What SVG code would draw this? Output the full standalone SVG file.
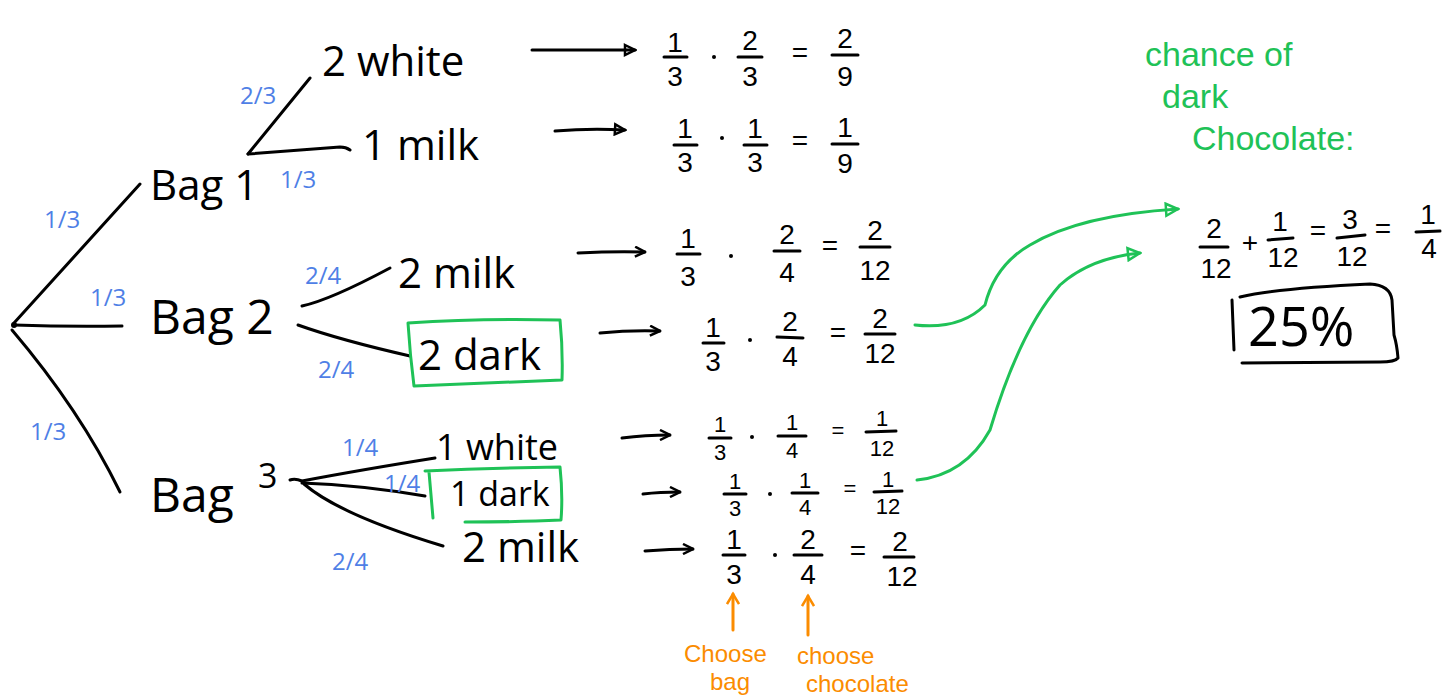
<svg xmlns="http://www.w3.org/2000/svg" width="1444" height="698" viewBox="0 0 1444 698">
<defs>
<style>
.ink{fill:none;stroke:#000;stroke-width:3;stroke-linecap:round;stroke-linejoin:round}
.g{fill:none;stroke:#1fc257;stroke-width:3;stroke-linecap:round;stroke-linejoin:round}
.o{fill:none;stroke:#fb8c00;stroke-width:3;stroke-linecap:round;stroke-linejoin:round}
.t{font-family:"Open Sans","Liberation Sans",sans-serif;fill:#000}
.big{font-size:42px}
.lbl{font-family:"Open Sans","Liberation Sans",sans-serif;fill:#4f7fe6;font-size:24px}
.f{font-family:"Liberation Sans",Arial,sans-serif;fill:#000;font-size:28px;text-anchor:middle}
.fs{font-family:"Liberation Sans",Arial,sans-serif;fill:#000;font-size:22px;text-anchor:middle}
.gt{font-family:"Liberation Sans",Arial,sans-serif;fill:#1fc257;font-size:34px}
.ot{font-family:"Liberation Sans",Arial,sans-serif;fill:#fb8c00;font-size:24px}
</style>
<marker id="ah" viewBox="0 0 12 12" refX="11" refY="6" markerWidth="12" markerHeight="12" markerUnits="userSpaceOnUse" orient="auto">
<path d="M1,1 L11,6 L1,11" fill="none" stroke="#000" stroke-width="2.5"/>
</marker>
<marker id="tri" viewBox="0 0 14 14" refX="12" refY="7" markerWidth="14" markerHeight="14" markerUnits="userSpaceOnUse" orient="auto">
<path d="M2,2 L12,7 L2,12 Z" fill="none" stroke="#000" stroke-width="2.5"/>
</marker>
<marker id="gtri" viewBox="0 0 16 16" refX="14" refY="8" markerWidth="16" markerHeight="16" markerUnits="userSpaceOnUse" orient="auto">
<path d="M2,2 L14,8 L2,14 Z" fill="none" stroke="#1fc257" stroke-width="2.5"/>
</marker>
<marker id="oh" viewBox="0 0 16 14" refX="13" refY="7" markerWidth="16" markerHeight="14" markerUnits="userSpaceOnUse" orient="auto">
<path d="M3,1 L13,7 L3,13" fill="none" stroke="#fb8c00" stroke-width="2.5"/>
</marker>
</defs>
<rect width="1444" height="698" fill="#fff"/>

<g id="connectors">
<circle cx="14" cy="325" r="3" fill="#000"/>
<path class="ink" d="M14,323 L140,184"/>
<path class="ink" d="M14,325 Q70,327 122,326"/>
<path class="ink" d="M12,330 Q80,410 120,492"/>
<path class="ink" d="M248,154 L310,78"/>
<path class="ink" d="M248,154 Q300,150 340,147 Q346,147 350,150"/>
<path class="ink" d="M302,306 Q330,300 390,268"/>
<path class="ink" d="M298,325 Q340,340 410,356"/>
<path class="ink" d="M290,480 Q295,478 302,481 Q360,470 435,458"/>
<path class="ink" d="M302,483 Q360,485 425,496"/>
<path class="ink" d="M304,484 Q340,515 443,546"/>
<path class="ink" d="M532,50 L635,50" marker-end="url(#tri)"/>
<path class="ink" d="M555,131 Q590,128 625,130" marker-end="url(#tri)"/>
<path class="ink" d="M578,253 Q615,251 645,252" marker-end="url(#ah)"/>
<path class="ink" d="M600,333 Q630,330 660,331" marker-end="url(#ah)"/>
<path class="ink" d="M622,438 Q645,435 670,435" marker-end="url(#ah)"/>
<path class="ink" d="M643,494 Q660,492 680,492" marker-end="url(#ah)"/>
<path class="ink" d="M645,551 Q670,549 693,549" marker-end="url(#ah)"/>
<path class="g" d="M915,325 Q960,330 985,305 Q995,265 1030,245 Q1080,215 1178,209" marker-end="url(#gtri)"/>
<path class="g" d="M917,480 Q965,475 990,430 Q1020,330 1060,285 Q1090,258 1140,253" marker-end="url(#gtri)"/>
<path class="o" d="M733,630 L733,594" marker-end="url(#oh)"/>
<path class="o" d="M808,635 L808,596" marker-end="url(#oh)"/>
</g>

<g id="branch-labels">
<text class="lbl" x="44" y="228">1/3</text>
<text class="lbl" x="90" y="306">1/3</text>
<text class="lbl" x="30" y="440">1/3</text>
<text class="lbl" x="240" y="104">2/3</text>
<text class="lbl" x="280" y="188">1/3</text>
<text class="lbl" x="305" y="284">2/4</text>
<text class="lbl" x="318" y="378">2/4</text>
<text class="lbl" x="342" y="456">1/4</text>
<text class="lbl" x="384" y="492" font-size="16">1/4</text>
<text class="lbl" x="332" y="570">2/4</text>
</g>

<g id="bag1"><text class="t big" x="150" y="200">Bag 1</text></g>
<g id="bag2"><text class="t" font-size="48" x="150" y="334">Bag 2</text></g>
<g id="bag3"><text class="t" font-size="48" x="150" y="512">Bag</text><text class="t" font-size="34" x="258" y="488">3</text></g>

<g id="white2"><text class="t big" x="322" y="76">2 white</text></g>
<g id="milk1"><text class="t big" x="362" y="160">1 milk</text></g>
<g id="milk2a"><text class="t big" x="398" y="288">2 milk</text></g>
<g id="dark2">
<path class="g" d="M408,323 Q480,318 560,320 Q563,350 562,380 Q490,383 414,386 Q410,355 408,323 Z"/>
<text class="t big" x="418" y="370">2 dark</text>
</g>
<g id="white1"><text class="t" font-size="36" x="436" y="460">1 white</text></g>
<g id="dark1">
<path class="g" d="M425,471 Q490,468 560,467 Q563,495 561,520 Q520,522 465,522 M429,472 L433,518"/>
<text class="t" font-size="34" x="450" y="506">1 dark</text>
</g>
<g id="milk2b"><text class="t big" x="462" y="562">2 milk</text></g>

<g id="eq1">
<text class="f" x="675" y="52">1</text><path class="ink" d="M664,57 L687,57"/><text class="f" x="675" y="86">3</text>
<circle cx="714" cy="57" r="2" fill="#000"/>
<text class="f" x="750" y="50">2</text><path class="ink" d="M738,57 L762,57"/><text class="f" x="750" y="86">3</text>
<text class="f" x="800" y="62">=</text>
<text class="f" x="845" y="48">2</text><path class="ink" d="M832,55 L858,55"/><text class="f" x="845" y="86">9</text>
</g>
<g id="eq2">
<text class="f" x="685" y="138">1</text><path class="ink" d="M674,145 L697,145"/><text class="f" x="685" y="172">3</text>
<circle cx="722" cy="138" r="2" fill="#000"/>
<text class="f" x="755" y="138">1</text><path class="ink" d="M744,145 L767,145"/><text class="f" x="755" y="172">3</text>
<text class="f" x="800" y="150">=</text>
<text class="f" x="845" y="137">1</text><path class="ink" d="M832,144 L858,144"/><text class="f" x="845" y="173">9</text>
</g>
<g id="eq3">
<text class="f" x="688" y="248">1</text><path class="ink" d="M677,254 L700,254"/><text class="f" x="688" y="286">3</text>
<circle cx="731" cy="256" r="2" fill="#000"/>
<text class="f" x="787" y="244">2</text><path class="ink" d="M774,251 L800,251"/><text class="f" x="787" y="282">4</text>
<text class="f" x="830" y="255">=</text>
<text class="f" x="875" y="240">2</text><path class="ink" d="M860,247 L890,247"/><text class="f" x="875" y="280">12</text>
</g>
<g id="eq4">
<text class="f" x="713" y="337">1</text><path class="ink" d="M703,343 L724,343"/><text class="f" x="713" y="371">3</text>
<circle cx="750" cy="340" r="2" fill="#000"/>
<text class="f" x="790" y="331">2</text><path class="ink" d="M777,337 L803,338"/><text class="f" x="790" y="366">4</text>
<text class="f" x="838" y="342">=</text>
<text class="f" x="880" y="328">2</text><path class="ink" d="M865,334 L895,334"/><text class="f" x="880" y="363">12</text>
</g>
<g id="eq5">
<text class="fs" x="720" y="432">1</text><path class="ink" d="M709,438 L731,438"/><text class="fs" x="720" y="460">3</text>
<circle cx="752" cy="437" r="2" fill="#000"/>
<text class="fs" x="792" y="430">1</text><path class="ink" d="M778,436 L806,436"/><text class="fs" x="792" y="458">4</text>
<text class="fs" x="838" y="438">=</text>
<text class="fs" x="882" y="426">1</text><path class="ink" d="M866,432 L896,431"/><text class="fs" x="882" y="456">12</text>
</g>
<g id="eq6">
<text class="fs" x="735" y="489">1</text><path class="ink" d="M724,494 L746,494"/><text class="fs" x="735" y="516">3</text>
<circle cx="770" cy="494" r="2" fill="#000"/>
<text class="fs" x="805" y="488">1</text><path class="ink" d="M792,493 L818,493"/><text class="fs" x="805" y="515">4</text>
<text class="fs" x="850" y="496">=</text>
<text class="fs" x="888" y="487">1</text><path class="ink" d="M874,492 L902,491"/><text class="fs" x="888" y="514">12</text>
</g>
<g id="eq7">
<text class="f" x="734" y="549">1</text><path class="ink" d="M723,555 L745,555"/><text class="f" x="734" y="584">3</text>
<circle cx="775" cy="555" r="2" fill="#000"/>
<text class="f" x="808" y="549">2</text><path class="ink" d="M794,555 L822,555"/><text class="f" x="808" y="584">4</text>
<text class="f" x="858" y="560">=</text>
<text class="f" x="900" y="551">2</text><path class="ink" d="M884,557 L914,557"/><text class="f" x="902" y="586">12</text>
</g>

<g id="choose-bag">
<text class="ot" x="684" y="662">Choose</text>
<text class="ot" x="710" y="690">bag</text>
</g>
<g id="choose-chocolate">
<text class="ot" x="797" y="664">choose</text>
<text class="ot" x="806" y="692">chocolate</text>
</g>

<g id="chance-title">
<text class="gt" x="1145" y="66">chance of</text>
<text class="gt" x="1162" y="108">dark</text>
<text class="gt" x="1192" y="150">Chocolate:</text>
</g>

<g id="sum">
<text class="f" x="1214" y="238">2</text><path class="ink" d="M1200,247 L1228,247"/><text class="f" x="1216" y="278">12</text>
<text class="f" x="1250" y="252">+</text>
<text class="f" x="1280" y="231">1</text><path class="ink" d="M1268,240 L1293,238"/><text class="f" x="1283" y="267">12</text>
<text class="f" x="1318" y="240">=</text>
<text class="f" x="1350" y="229">3</text><path class="ink" d="M1337,238 L1365,235"/><text class="f" x="1352" y="266">12</text>
<text class="f" x="1383" y="238">=</text>
<text class="f" x="1428" y="224">1</text><path class="ink" d="M1416,232 L1440,231"/><text class="f" x="1429" y="258">4</text>
</g>

<g id="result">
<path class="ink" d="M1232,300 L1234,350 M1240,297 Q1280,288 1370,284 Q1390,285 1392,300 L1394,335 Q1397,345 1398,358 Q1395,362 1380,362 L1242,363"/>
<text class="t" font-size="54" x="1248" y="346">25%</text>
</g>
</svg>
